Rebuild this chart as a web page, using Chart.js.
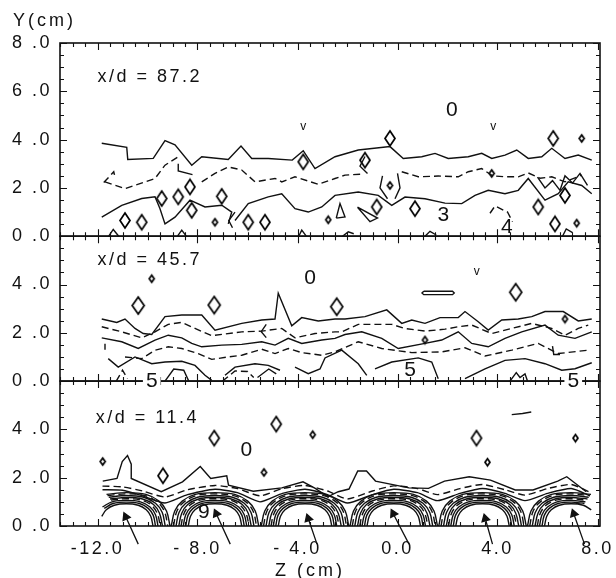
<!DOCTYPE html>
<html>
<head>
<meta charset="utf-8">
<title>Y-Z contours at three x/d stations</title>
<script src="https://cdn.jsdelivr.net/npm/chart.js"></script>
<style>
  html, body { margin: 0; padding: 0; background: #fff; }
  canvas { display: block; }
</style>
</head>
<body>
<canvas id="contours" width="616" height="578"></canvas>
<script>
// ---- axes ----
const zTicks = [-12, -8, -4, 0, 4, 8];
const yTicksTop = [0, 2, 4, 6, 8];
const yTicksLow = [0, 2, 4];

// ---- x/d = 87.2 (top panel), points are [Z, Y] in cm, null breaks a line ----
const top87Upper = [[-11.83,3.85],[-10.83,3.68],[-10.79,3.18],[-9.77,3.22],[-9.3,3.96],[-8.9,3.78],[-8.23,2.94],[-7.83,3.29],[-6.77,3.18],[-6.26,3.73],[-5.83,3.22],[-5.17,3.22],[-4.21,3.15],[-3.77,3.54],[-3.3,2.8],[-2.5,3.29],[-1.57,3.57],[-0.3,3.71],[0.23,3.22],[0.97,3.29],[1.5,3.43],[2.03,3.22],[2.83,3.29],[3.37,3.43],[3.77,3.22],[4.3,3.36],[4.77,3.57],[5.23,3.22],[5.77,3.29],[6.17,3.64],[6.7,3.22],[7.23,3.36],[7.77,3.15]];
const top87Dashed = [[-11.75,2.22],[-11.35,2.67],[-11.3,2.45],null,
  [-11.7,2.25],[-10.9,1.97],[-9.7,2.39],[-9.3,2.94],[-8.77,3.29],null,
  [-7.83,2.25],[-7.3,2.6],[-6.77,2.87],[-6.23,2.74],[-5.7,2.25],[-4.9,2.39],[-4.63,2.25],[-4.1,2.46],[-3.17,2.15],[-2.5,2.39],[-2.1,2.53],[-1.43,2.57],null,
  [0.17,2.67],[0.83,2.46],[1.63,2.49],[2.43,2.46],[2.83,2.67],[3.37,2.8],[3.8,2.5],[4.3,2.46],[4.83,2.46],[5.23,2.62],[5.7,2.4],[6.17,2.46],[6.7,2.25],[7.37,2.53],null,
  [3.7,0.95],[3.9,1.25],[4.4,1.0],[4.6,0.6]];
const top87Lower = [[-11.83,0.79],[-11.03,1.28],[-10.23,1.56],[-9.7,1.63],[-9.5,1.14],[-9.3,0.51],[-8.9,0.79],[-8.3,1.49],[-7.7,1.21],[-7.03,1.28],[-6.63,1.0],[-6.77,0.51],null,
  [-6.5,0.65],[-5.97,1.35],[-5.17,1.63],[-4.63,1.76],[-4.1,1.14],[-3.57,1.0],[-3.03,1.21],[-2.5,1.69],[-1.57,1.83],[-0.77,1.69],[-0.23,1.28],[0.3,1.62],[1.1,1.55],[1.9,1.37],[2.57,1.35],[3.1,1.69],[3.63,1.9],[4.3,1.76],[4.83,1.9],[5.23,2.39],[5.9,1.49],[6.43,1.76],[6.83,2.25],[7.37,2.1],[7.77,1.76]];
const top87Bits = [[-8.77,3.0],[-8.77,2.7],[-8.2,2.55],null,
  [-1.3,3.3],[-1.5,2.9],[-1.2,2.6],null,
  [-0.6,2.5],[-0.7,2.0],[-0.4,1.55],null,
  [0.0,2.6],[0.1,2.0],[-0.1,1.55],null,
  [5.6,2.45],[5.9,2.0],[6.2,2.3],[6.5,1.9],[6.7,2.5],[7.0,2.2],[7.3,2.6],[7.6,2.1],null,
  [-6.5,1.0],[-6.75,0.65],[-6.6,0.35],null,
  [-2.45,0.75],[-2.3,1.35],[-2.1,0.8],[-2.45,0.75],null,
  [-1.6,1.2],[-0.8,0.75],[-1.1,0.6],[-1.6,1.2],null,
  [-11.55,0],[-11.37,0.28],[-11.15,0],null,
  [-8.8,0],[-8.63,0.25],[-8.45,0],null,
  [-3.95,0],[-3.83,0.25],[-3.65,0],null,
  [-2.2,0],[-1.97,0.18],[-1.75,0.1],null,
  [1.1,0],[1.3,0.2],[1.55,0.05],null,
  [6.6,0],[6.75,0.3],[7.0,0.15]];
const top87Islands = [[-3.77,3.08],[-8.3,2.04],[-8.77,1.63],[-9.43,1.56],[-10.9,0.65],[-10.23,0.58],[-8.23,1.07],[-7.03,1.65],[-5.97,0.58],[-5.3,0.58],[-0.3,4.05],[6.23,4.05],[0.7,1.14],[-0.83,1.21],[5.63,1.21],[6.3,0.51],[6.7,1.69],[-1.3,3.15]];
const top87Specks = [[-7.3,0.58],[-2.77,0.68],[3.77,2.6],[7.17,0.54],[7.37,4.05],[-0.3,2.1]];
const top87Labels = [['x/d = 87.2', -12.0, 6.6]];
const top87Levels = [['0', 2.17, 5.23], ['3', 1.83, 0.86], ['4', 4.37, 0.37]];
const top87Marks = [['v', -3.77, 4.54], ['v', 3.83, 4.54]];

// ---- x/d = 45.7 (middle panel) ----
const mid46Solid = [[-11.83,2.57],[-11.23,2.43],[-10.9,2.57],[-10.5,2.18],[-10.17,1.97],[-9.83,1.93],[-9.3,2.67],[-8.63,2.74],[-7.83,2.74],[-7.3,2.11],[-6.23,2.39],[-5.43,2.53],[-4.9,2.57],[-4.77,3.64],[-4.23,2.29],[-3.83,2.63],[-3.17,2.49],[-2.5,2.57],[-2.1,2.57],[-1.3,2.67],[-0.43,2.95],[0.17,2.39],[0.57,2.53],[1.1,2.39],[1.7,2.63],[2.43,2.63],[2.7,2.88],[3.23,2.46],[3.63,2.11],[4.17,2.53],[4.83,2.57],[5.37,2.67],[5.9,2.88],[6.63,2.88],[7.23,2.49],[7.77,2.57],null,
  [-11.83,1.79],[-11.03,1.63],[-10.37,1.35],[-9.7,1.7],[-9.17,1.9],[-8.63,1.79],[-8.23,1.56],[-7.83,1.42],[-7.03,1.49],[-6.23,1.52],[-5.43,1.63],[-4.9,1.49],[-4.37,1.77],[-3.83,1.56],[-3.03,1.7],[-2.5,1.77],[-2.1,1.93],[-1.43,2.04],[-0.63,1.77],[0.03,1.35],[1.1,1.56],[1.77,1.7],[2.43,2.04],[2.97,1.56],[3.63,1.42],[4.3,1.77],[4.97,2.04],[5.9,2.32],[6.43,1.9],[7.1,1.77],[7.77,2.04],null,
  [-11.57,0.93],[-11.17,0.58],[-10.5,1.0],[-9.83,0.72],[-9.3,0.79],[-8.63,0.82],[-8.1,0.65],[-7.7,0.24],[-7.43,0.03],null,
  [-6.9,0.24],[-6.5,0.58],[-5.7,0.72],[-5.17,0.65],[-4.7,0.45],null,
  [-4.1,0.58],[-3.57,0.31],[-3.1,0.5],[-2.9,0.96],[-2.23,1.28],[-1.57,0.72],[-1.23,0.24],null,
  [-0.9,0.51],[-0.23,0.79],[0.83,0.96],[1.37,0.79],[1.63,0.1],null,
  [2.7,0.1],[3.5,0.51],[4.3,0.86],[5.1,0.93],[5.9,0.72],[6.57,0.45],[7.1,0.51],[7.77,0.76]];
const mid46Dashed = [[-11.83,2.25],[-11.03,2.04],[-10.23,1.79],[-9.7,2.04],[-9.17,2.35],[-8.63,2.43],[-8.1,2.18],[-7.43,1.88],[-6.23,2.04],[-5.43,2.07],[-4.63,2.18],[-4.1,1.79],[-3.3,1.97],[-2.5,2.04],[-2.23,2.04],[-1.57,2.35],[-0.23,2.35],[0.3,2.18],[1.1,2.07],[1.9,2.15],[2.43,2.25],[2.97,2.32],[3.77,1.97],[4.57,2.18],[5.37,2.39],[6.17,2.18],[6.7,1.9],[7.23,2.18],[7.63,2.32],null,
  [-10.9,1.0],[-10.23,0.93],[-9.7,1.28],[-9.17,1.42],[-8.63,1.35],[-7.97,1.14],[-7.43,0.9],[-6.77,1.0],[-6.23,1.07],[-5.43,1.32],[-4.9,1.14],[-4.37,1.35],[-3.83,1.18],[-3.03,1.07],[-2.5,1.21],[-1.57,1.63],[-0.63,1.35],[0.57,1.18],[1.77,1.21],[2.7,1.38],[3.5,1.04],[4.57,1.28],[5.63,1.56],[6.43,1.14],[7.63,1.28],null,
  [-11.25,0],[-11.0,0.45],[-10.8,0.1],null,
  [-7.0,0],[-6.5,0.42],[-6.0,0.4],[-5.75,0.15]];
const mid46Bits = [[-11.7,1.3],[-11.7,1.55],null,
  [-5.25,2.35],[-5.45,2.05],[-5.25,1.8],null,
  [6.2,1.45],[6.25,1.1],[6.5,1.1],null,
  [-9.3,0],[-8.95,0.5],[-8.55,0.45],[-8.35,0],null,
  [-5.6,0.15],[-5.15,0.5],[-4.85,0.3],null,
  [4.5,0],[4.75,0.35],[4.9,0.15],[5.1,0.3],[5.2,0],null,
  [1.05,3.72],[2.2,3.72],[2.27,3.65],[2.2,3.58],[1.05,3.58],[0.98,3.65],[1.05,3.72]];
const mid46Islands = [[-10.37,3.13],[-7.33,3.15],[-2.43,3.08],[4.73,3.68]];
const mid46Specks = [[-9.83,4.24],[1.1,1.7],[6.7,2.57]];
const mid46Labels = [['x/d = 45.7', -12.0, 5.0]];
const mid46Levels = [['0', -3.5, 4.27], ['5', 0.5, 0.45]];
const mid46EdgeLevels = [['5', -9.83, 0.0], ['5', 7.03, 0.0]];
const mid46Marks = [['v', 3.17, 4.54]];

// ---- x/d = 11.4 (bottom panel) ----
const bot11Envelope = [[-11.79,1.86],[-11.22,1.97],[-11.01,2.67],[-10.8,2.92],[-10.65,2.56],[-10.65,1.97],[-9.45,1.42],[-8.6,1.83],[-7.89,2.46],[-7.47,1.97],[-6.83,2.08],[-6.76,1.69],[-5.77,1.44],[-4.63,1.58],[-3.78,1.83],[-3.29,1.56],[-2.79,1.21],[-2.37,1.42],[-1.94,1.53],[-1.59,2.28],[-1.24,2.28],[-0.88,1.86],[0.46,1.58],[1.24,1.56],[1.88,1.86],[2.87,2.04],[3.72,1.9],[4.71,1.49],[5.42,1.49],[6.41,1.86],[6.77,2.04],[7.55,1.42]];
const bot11WaveDashed = [[-11.8,1.65],[-11.0,1.62],[-10.2,1.45],[-9.3,1.2],[-8.4,1.5],[-7.3,1.68],[-6.4,1.55],[-5.5,1.25],[-4.6,1.55],[-3.7,1.68],[-2.8,1.45],[-2.0,1.12],[-1.0,1.45],[-0.15,1.66],[0.8,1.55],[1.6,1.3],[2.5,1.55],[3.4,1.72],[4.3,1.5],[5.1,1.28],[6.0,1.55],[6.95,1.72],[7.7,1.4]];
const bot11WaveSolid = [[-11.8,1.5],[-11.0,1.48],[-10.2,1.25],[-9.3,0.95],[-8.4,1.3],[-7.3,1.52],[-6.4,1.38],[-5.5,1.0],[-4.6,1.35],[-3.7,1.52],[-2.8,1.3],[-2.0,0.95],[-1.0,1.3],[-0.15,1.52],[0.8,1.38],[1.6,1.05],[2.5,1.35],[3.4,1.55],[4.3,1.35],[5.1,1.05],[6.0,1.35],[6.95,1.55],[7.7,1.25]];
// jet centres and the arch-shaped rings around each of them ([dZ, Y])
const bot11Tubes = [-10.85, -7.3, -3.7, -0.15, 3.4, 6.95];
const bot11Ring1 = [[-1.75,0],[-1.61,0.62],[-1.31,1.03],[-0.79,1.31],[0,1.38],[0.79,1.31],[1.31,1.03],[1.61,0.62],[1.75,0]];
const bot11Ring2 = [[-1.66,0],[-1.53,0.6],[-1.25,0.99],[-0.75,1.26],[0,1.33],[0.75,1.26],[1.25,0.99],[1.53,0.6],[1.66,0]];
const bot11Ring3 = [[-1.56,0],[-1.44,0.56],[-1.17,0.94],[-0.7,1.19],[0,1.26],[0.7,1.19],[1.17,0.94],[1.44,0.56],[1.56,0]];
const bot11Ring4 = [[-1.45,0],[-1.33,0.53],[-1.09,0.89],[-0.65,1.12],[0,1.18],[0.65,1.12],[1.09,0.89],[1.33,0.53],[1.45,0]];
const bot11Ring5 = [[-1.36,0],[-1.25,0.5],[-1.02,0.85],[-0.61,1.07],[0,1.13],[0.61,1.07],[1.02,0.85],[1.25,0.5],[1.36,0]];
const bot11Ring6 = [[-1.27,0],[-1.17,0.47],[-0.95,0.79],[-0.57,1.0],[0,1.06],[0.57,1.0],[0.95,0.79],[1.17,0.47],[1.27,0]];
const bot11Ring7 = [[-1.17,0],[-1.08,0.44],[-0.88,0.73],[-0.53,0.93],[0,0.99],[0.53,0.93],[0.88,0.73],[1.08,0.44],[1.17,0]];
const bot11Ring8 = [[-1.07,0],[-0.98,0.4],[-0.8,0.67],[-0.48,0.86],[0,0.92],[0.48,0.86],[0.8,0.67],[0.98,0.4],[1.07,0]];
const bot11Arrows = [[-10.37,-0.75,-10.87,0.38],[-6.69,-0.75,-7.25,0.51],[-3.22,-0.75,-3.57,0.31],[0.46,-0.75,-0.17,0.51],[3.8,-0.75,3.51,0.31],[7.48,-0.75,7.05,0.51]];
const bot11Bits = [[4.57,4.61],[5.0,4.66],[5.35,4.72]];
const bot11Islands = [[-9.38,2.08],[-7.33,3.64],[-4.85,4.22],[3.16,3.64]];
const bot11Specks = [[-3.39,3.78],[-5.34,2.22],[3.6,2.64],[7.12,3.64],[-11.79,2.67]];
const bot11Labels = [['x/d = 11.4', -12.07, 4.47]];
const bot11Levels = [['0', -6.05, 3.15], ['9', -7.75, 0.56]];

const Z_FIRST = -11.85, Z_LAST = 7.75;
const INK = '#111';
const FONT = '"Liberation Sans", Arial, sans-serif';
const PANELS = ['yTop', 'yMid', 'yBot'];

// outline diamond used as the marker of small closed contours
function diamond(w, h) {
  const c = document.createElement('canvas');
  c.width = w + 4;
  c.height = h + 4;
  const g = c.getContext('2d');
  g.strokeStyle = '#000';
  g.lineWidth = 1.7;
  g.lineJoin = 'miter';
  g.beginPath();
  g.moveTo(c.width / 2, 2);
  g.lineTo(c.width - 2, c.height / 2);
  g.lineTo(c.width / 2, c.height - 2);
  g.lineTo(2, c.height / 2);
  g.closePath();
  g.stroke();
  return c;
}

function toPoints(list) {
  return list.map(p => (p ? { x: p[0], y: p[1] } : { x: null, y: null }));
}

function contour(list, axis, dashed, tension) {
  return {
    data: toPoints(list),
    yAxisID: axis,
    showLine: true,
    borderColor: INK,
    borderWidth: 1.4,
    borderDash: dashed ? [7, 4] : [],
    pointRadius: 0,
    pointHoverRadius: 0,
    tension: tension || 0,
    spanGaps: false
  };
}

function islands(list, axis, marker) {
  return {
    data: toPoints(list),
    yAxisID: axis,
    showLine: false,
    pointStyle: marker,
    pointRadius: 5,
    pointHoverRadius: 5
  };
}

// rings of every jet, cut to the measured span
const ringsSolid = [];
const ringsDashed = [];
bot11Tubes.forEach(zc => {
  [[bot11Ring1, false], [bot11Ring2, true], [bot11Ring3, false], [bot11Ring4, false],
   [bot11Ring5, true], [bot11Ring6, false], [bot11Ring7, false], [bot11Ring8, false]].forEach(([ring, dashed]) => {
    const target = dashed ? ringsDashed : ringsSolid;
    ring.forEach(([dz, y]) => {
      const z = zc + dz;
      if (z >= Z_FIRST && z <= Z_LAST) target.push([z, y]);
    });
    target.push(null);
  });
});

// arrows: tail, head (triangle turned along the arrow)
const arrowPoints = [];
bot11Arrows.forEach(([z0, y0, z1, y1]) => {
  const rot = Math.atan2(z1 - z0, y1 - y0) * 180 / Math.PI;
  arrowPoints.push({ x: z0, y: y0 }, { x: z1, y: y1, head: true, rot: rot }, { x: null, y: null });
});

const bigDiamond = diamond(10, 15);
const wideDiamond = diamond(12, 17);
const smallDiamond = diamond(5, 7);

const datasets = [
  contour(top87Upper, 'yTop', false),
  contour(top87Dashed, 'yTop', true),
  contour(top87Lower, 'yTop', false),
  contour(top87Bits, 'yTop', false),
  islands(top87Islands, 'yTop', bigDiamond),
  islands(top87Specks, 'yTop', smallDiamond),
  contour(mid46Solid, 'yMid', false),
  contour(mid46Dashed, 'yMid', true),
  contour(mid46Bits, 'yMid', false),
  islands(mid46Islands, 'yMid', wideDiamond),
  islands(mid46Specks, 'yMid', smallDiamond),
  contour(bot11Envelope, 'yBot', false),
  contour(bot11WaveDashed, 'yBot', true, 0.2),
  contour(bot11WaveSolid, 'yBot', false, 0.2),
  contour(ringsSolid, 'yBot', false, 0.35),
  contour(ringsDashed, 'yBot', true, 0.35),
  contour(bot11Bits, 'yBot', false),
  islands(bot11Islands, 'yBot', bigDiamond),
  islands(bot11Specks, 'yBot', smallDiamond),
  {
    data: arrowPoints,
    yAxisID: 'yBot',
    showLine: true,
    clip: false,
    borderColor: INK,
    borderWidth: 1.3,
    pointStyle: 'triangle',
    pointRadius: c => (c.raw && c.raw.head ? 4.5 : 0),
    pointHoverRadius: 0,
    pointRotation: c => (c.raw && c.raw.rot) || 0,
    pointBackgroundColor: INK,
    pointBorderColor: INK,
    spanGaps: false
  }
];

function yAxis(max, weight, ticks) {
  return {
    type: 'linear',
    position: 'left',
    stack: 'panels',
    stackWeight: max,
    weight: weight,
    min: 0,
    max: max,
    grid: { display: false, drawTicks: false },
    border: { display: false },
    ticks: {
      color: INK,
      padding: 8,
      font: { family: FONT, size: 18 },
      callback: v => v.toFixed(1).replace('.', ' .')
    },
    afterBuildTicks: s => { s.ticks = ticks.map(v => ({ value: v })); },
    afterFit: s => { s.width = 60; s.paddingTop = 0; s.paddingBottom = 0; }
  };
}

// frames of the three panels with inward tick marks, plus the in-plot labels
const panelFrames = {
  id: 'panelFrames',
  beforeDraw(chart) {
    chart.ctx.letterSpacing = '2.5px';
  },
  beforeDatasetsDraw(chart) {
    const { ctx, scales } = chart;
    const xs = scales.x;
    ctx.save();
    ctx.strokeStyle = INK;
    PANELS.forEach(id => {
      const ys = scales[id];
      ctx.lineWidth = 1.6;
      ctx.strokeRect(xs.left, ys.top, xs.right - xs.left, ys.bottom - ys.top);
      ctx.lineWidth = 1.1;
      ctx.beginPath();
      for (let z = -13.5; z <= 8.001; z += 0.5) {
        const px = Math.round(xs.getPixelForValue(z)) + 0.5;
        const len = zTicks.includes(z) ? 7 : 4;
        ctx.moveTo(px, ys.bottom); ctx.lineTo(px, ys.bottom - len);
        ctx.moveTo(px, ys.top); ctx.lineTo(px, ys.top + len);
      }
      for (let y = 0; y <= ys.max + 0.001; y += 0.5) {
        const py = Math.round(ys.getPixelForValue(y)) + 0.5;
        const len = y % 2 === 0 ? 7 : 4;
        ctx.moveTo(xs.left, py); ctx.lineTo(xs.left + len, py);
        ctx.moveTo(xs.right, py); ctx.lineTo(xs.right - len, py);
      }
      ctx.stroke();
    });
    ctx.restore();
  },
  afterDatasetsDraw(chart) {
    const { ctx, scales } = chart;
    const xs = scales.x;
    const groups = [
      { items: top87Labels, axis: 'yTop', size: 18, align: 'left' },
      { items: mid46Labels, axis: 'yMid', size: 18, align: 'left' },
      { items: bot11Labels, axis: 'yBot', size: 18, align: 'left' },
      { items: top87Levels, axis: 'yTop', size: 21, align: 'center' },
      { items: mid46Levels, axis: 'yMid', size: 21, align: 'center' },
      { items: bot11Levels, axis: 'yBot', size: 21, align: 'center' },
      { items: mid46EdgeLevels, axis: 'yMid', size: 21, align: 'center', knockout: true },
      { items: top87Marks, axis: 'yTop', size: 12, align: 'center' },
      { items: mid46Marks, axis: 'yMid', size: 12, align: 'center' }
    ];
    ctx.save();
    ctx.textBaseline = 'middle';
    groups.forEach(g => {
      ctx.font = g.size + 'px ' + FONT;
      ctx.letterSpacing = g.align === 'left' ? '2.5px' : '0px';
      ctx.textAlign = g.align;
      g.items.forEach(([txt, z, y]) => {
        const px = xs.getPixelForValue(z);
        const py = scales[g.axis].getPixelForValue(y);
        if (g.knockout) {
          const w = ctx.measureText(txt).width;
          ctx.fillStyle = '#fff';
          ctx.fillRect(px - w / 2 - 3, py - 9, w + 6, 18);
        }
        ctx.fillStyle = INK;
        ctx.fillText(txt, px, py);
      });
    });
    // axis titles
    ctx.font = '18px ' + FONT;
    ctx.letterSpacing = '3px';
    ctx.textAlign = 'left';
    ctx.fillText('Y(cm)', 13, scales.yTop.top - 22);
    ctx.textAlign = 'center';
    ctx.fillText('Z (cm)', xs.getPixelForValue(-3.5), xs.bottom - 7);
    ctx.restore();
  }
};

new Chart(document.getElementById('contours'), {
  type: 'scatter',
  data: { datasets: datasets },
  options: {
    responsive: false,
    animation: false,
    events: [],
    layout: { padding: { top: 43, right: 16, left: 0, bottom: 0 } },
    plugins: { legend: { display: false }, tooltip: { enabled: false } },
    scales: {
      x: {
        type: 'linear',
        min: -13.5,
        max: 8.1,
        grid: { display: false, drawTicks: false },
        border: { display: false },
        ticks: {
          color: INK,
          padding: 12,
          font: { family: FONT, size: 18 },
          callback: v => (v < 0 && v > -10 ? '- ' + Math.abs(v).toFixed(1) : v.toFixed(1))
        },
        afterBuildTicks: s => { s.ticks = zTicks.map(v => ({ value: v })); },
        afterFit: s => { s.height = 52; s.paddingLeft = 0; s.paddingRight = 0; }
      },
      yTop: yAxis(8, 3, yTicksTop),
      yMid: yAxis(6, 2, yTicksLow),
      yBot: yAxis(6, 1, yTicksLow)
    }
  },
  plugins: [panelFrames]
});
</script>
</body>
</html>
